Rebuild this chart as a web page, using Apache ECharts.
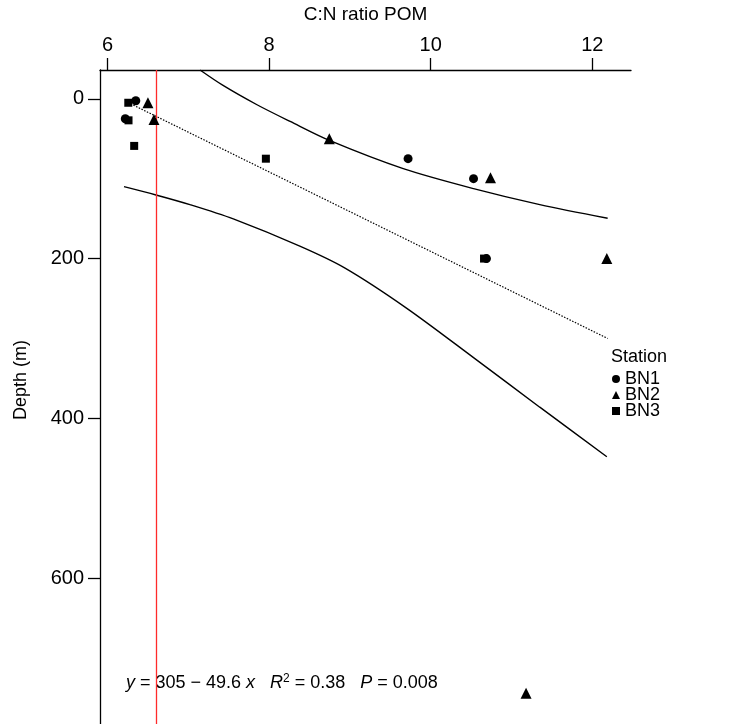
<!DOCTYPE html>
<html>
<head>
<meta charset="utf-8">
<script src="https://cdn.jsdelivr.net/npm/echarts@6/dist/echarts.min.js"></script>
<style>
html,body{margin:0;padding:0;background:#fff;}
#chart{width:729px;height:724px;}
</style>
</head>
<body>
<div id="chart"></div>
<script>
// ---- data ----
const xTicks = [6, 8, 10, 12];
const yTicks = [0, 200, 400, 600];
const stations = ['BN1', 'BN2', 'BN3'];
const bn1 = [[6.35, 2.5], [6.22, 25], [9.72, 75], [10.53, 100], [10.69, 200]];
const bn2 = [[6.50, 5], [6.575, 26], [8.745, 50], [10.74, 99], [12.18, 200], [11.18, 744]];
const bn3 = [[6.257, 5], [6.26, 27], [6.33, 59], [7.96, 75], [10.66, 200]];
const fitLine = [[6.22, 3], [12.19, 300]];
const upperBand = [[7.145, -36], [7.43, -16.7], [7.85, 7.5], [8.26, 28.4], [8.754, 52.5], [9.66, 87.5], [10.53, 112.5], [11.35, 132.5], [12.19, 149.6]];
const lowerBand = [[6.204, 110], [6.60, 120.4], [7.02, 132.5], [7.557, 150.4], [8.38, 184.5], [8.94, 212], [9.70, 262], [10.53, 324], [11.35, 386], [12.18, 448]];
const redfield = 6.6;
const xRange = [5.907, 12.479];
const yRange = [-36, 782.5];

const FONT = '"Liberation Sans", Arial, sans-serif';
const chart = echarts.init(document.getElementById('chart'), null, {renderer: 'canvas'});

const scatter = (name, data, symbol, size) => ({
  name, type: 'scatter', data, symbol, symbolSize: size,
  itemStyle: {color: '#000', opacity: 1}, z: 5
});
const bandLine = (data) => ({
  type: 'line', data, smooth: 0.3, symbol: 'none', silent: true,
  lineStyle: {color: '#000', width: 1.4}, clip: true
});

chart.setOption({
  animation: false,
  backgroundColor: '#fff',
  textStyle: {fontFamily: FONT},
  grid: {left: 100, top: 69, right: 98, bottom: 0, containLabel: false},
  xAxis: {
    type: 'value', position: 'top', min: xRange[0], max: xRange[1],
    name: 'C:N ratio POM', nameLocation: 'middle', nameGap: 46,
    nameTextStyle: {fontSize: 19, color: '#000', fontFamily: FONT},
    axisLine: {show: true, onZero: false, lineStyle: {color: '#000', width: 1.3}},
    axisTick: {show: true, length: 12, customValues: xTicks, lineStyle: {color: '#000', width: 1.3}},
    axisLabel: {customValues: xTicks, fontSize: 20, color: '#000', margin: 15, fontFamily: FONT},
    splitLine: {show: false}
  },
  yAxis: {
    type: 'value', inverse: true, min: yRange[0], max: yRange[1],
    name: 'Depth (m)', nameLocation: 'middle', nameGap: 70, nameRotate: 90,
    nameTextStyle: {fontSize: 18, color: '#000', fontFamily: FONT, padding: [0, 0, 0, 34]},
    axisLine: {show: true, onZero: false, lineStyle: {color: '#000', width: 1.3}},
    axisTick: {show: true, length: 12, customValues: yTicks, lineStyle: {color: '#000', width: 1.3}},
    axisLabel: {customValues: yTicks, fontSize: 20, color: '#000', margin: 16, fontFamily: FONT},
    splitLine: {show: false}
  },
  legend: {
    data: stations, orient: 'vertical', left: 612, top: 370, padding: 0,
    itemWidth: 8, itemHeight: 8, itemGap: -2,
    textStyle: {fontSize: 18, color: '#000', fontFamily: FONT},
    itemStyle: {color: '#000', opacity: 1}
  },
  graphic: [
    {type: 'text', left: 611, top: 348, style: {text: 'Station', fontSize: 18, fill: '#000', font: '18px ' + FONT}},
    {type: 'text', left: 126, top: 673, style: {
      text: '{i|y} = 305 \u2212 49.6 {i|x}   {i|R}{s|2} = 0.38   {i|P} = 0.008',
      font: '18px ' + FONT, fill: '#000', lineHeight: 20,
      rich: {
        i: {fontStyle: 'italic', fontSize: 18, fontFamily: FONT, lineHeight: 20},
        s: {fontSize: 12, fontFamily: FONT, verticalAlign: 'top', lineHeight: 20}
      }
    }}
  ],
  series: [
    scatter('BN1', bn1, 'circle', 9),
    scatter('BN2', bn2, 'triangle', 11),
    scatter('BN3', bn3, 'rect', 8),
    {
      type: 'line', data: fitLine, symbol: 'none', silent: true,
      lineStyle: {color: '#000', width: 1.2, type: [1.5, 1.5]},
      markLine: {
        silent: true, symbol: 'none', label: {show: false},
        lineStyle: {color: '#ff2a2a', width: 1.3, type: 'solid'},
        data: [{xAxis: redfield}]
      }
    },
    bandLine(upperBand),
    bandLine(lowerBand)
  ]
});
</script>
</body>
</html>
